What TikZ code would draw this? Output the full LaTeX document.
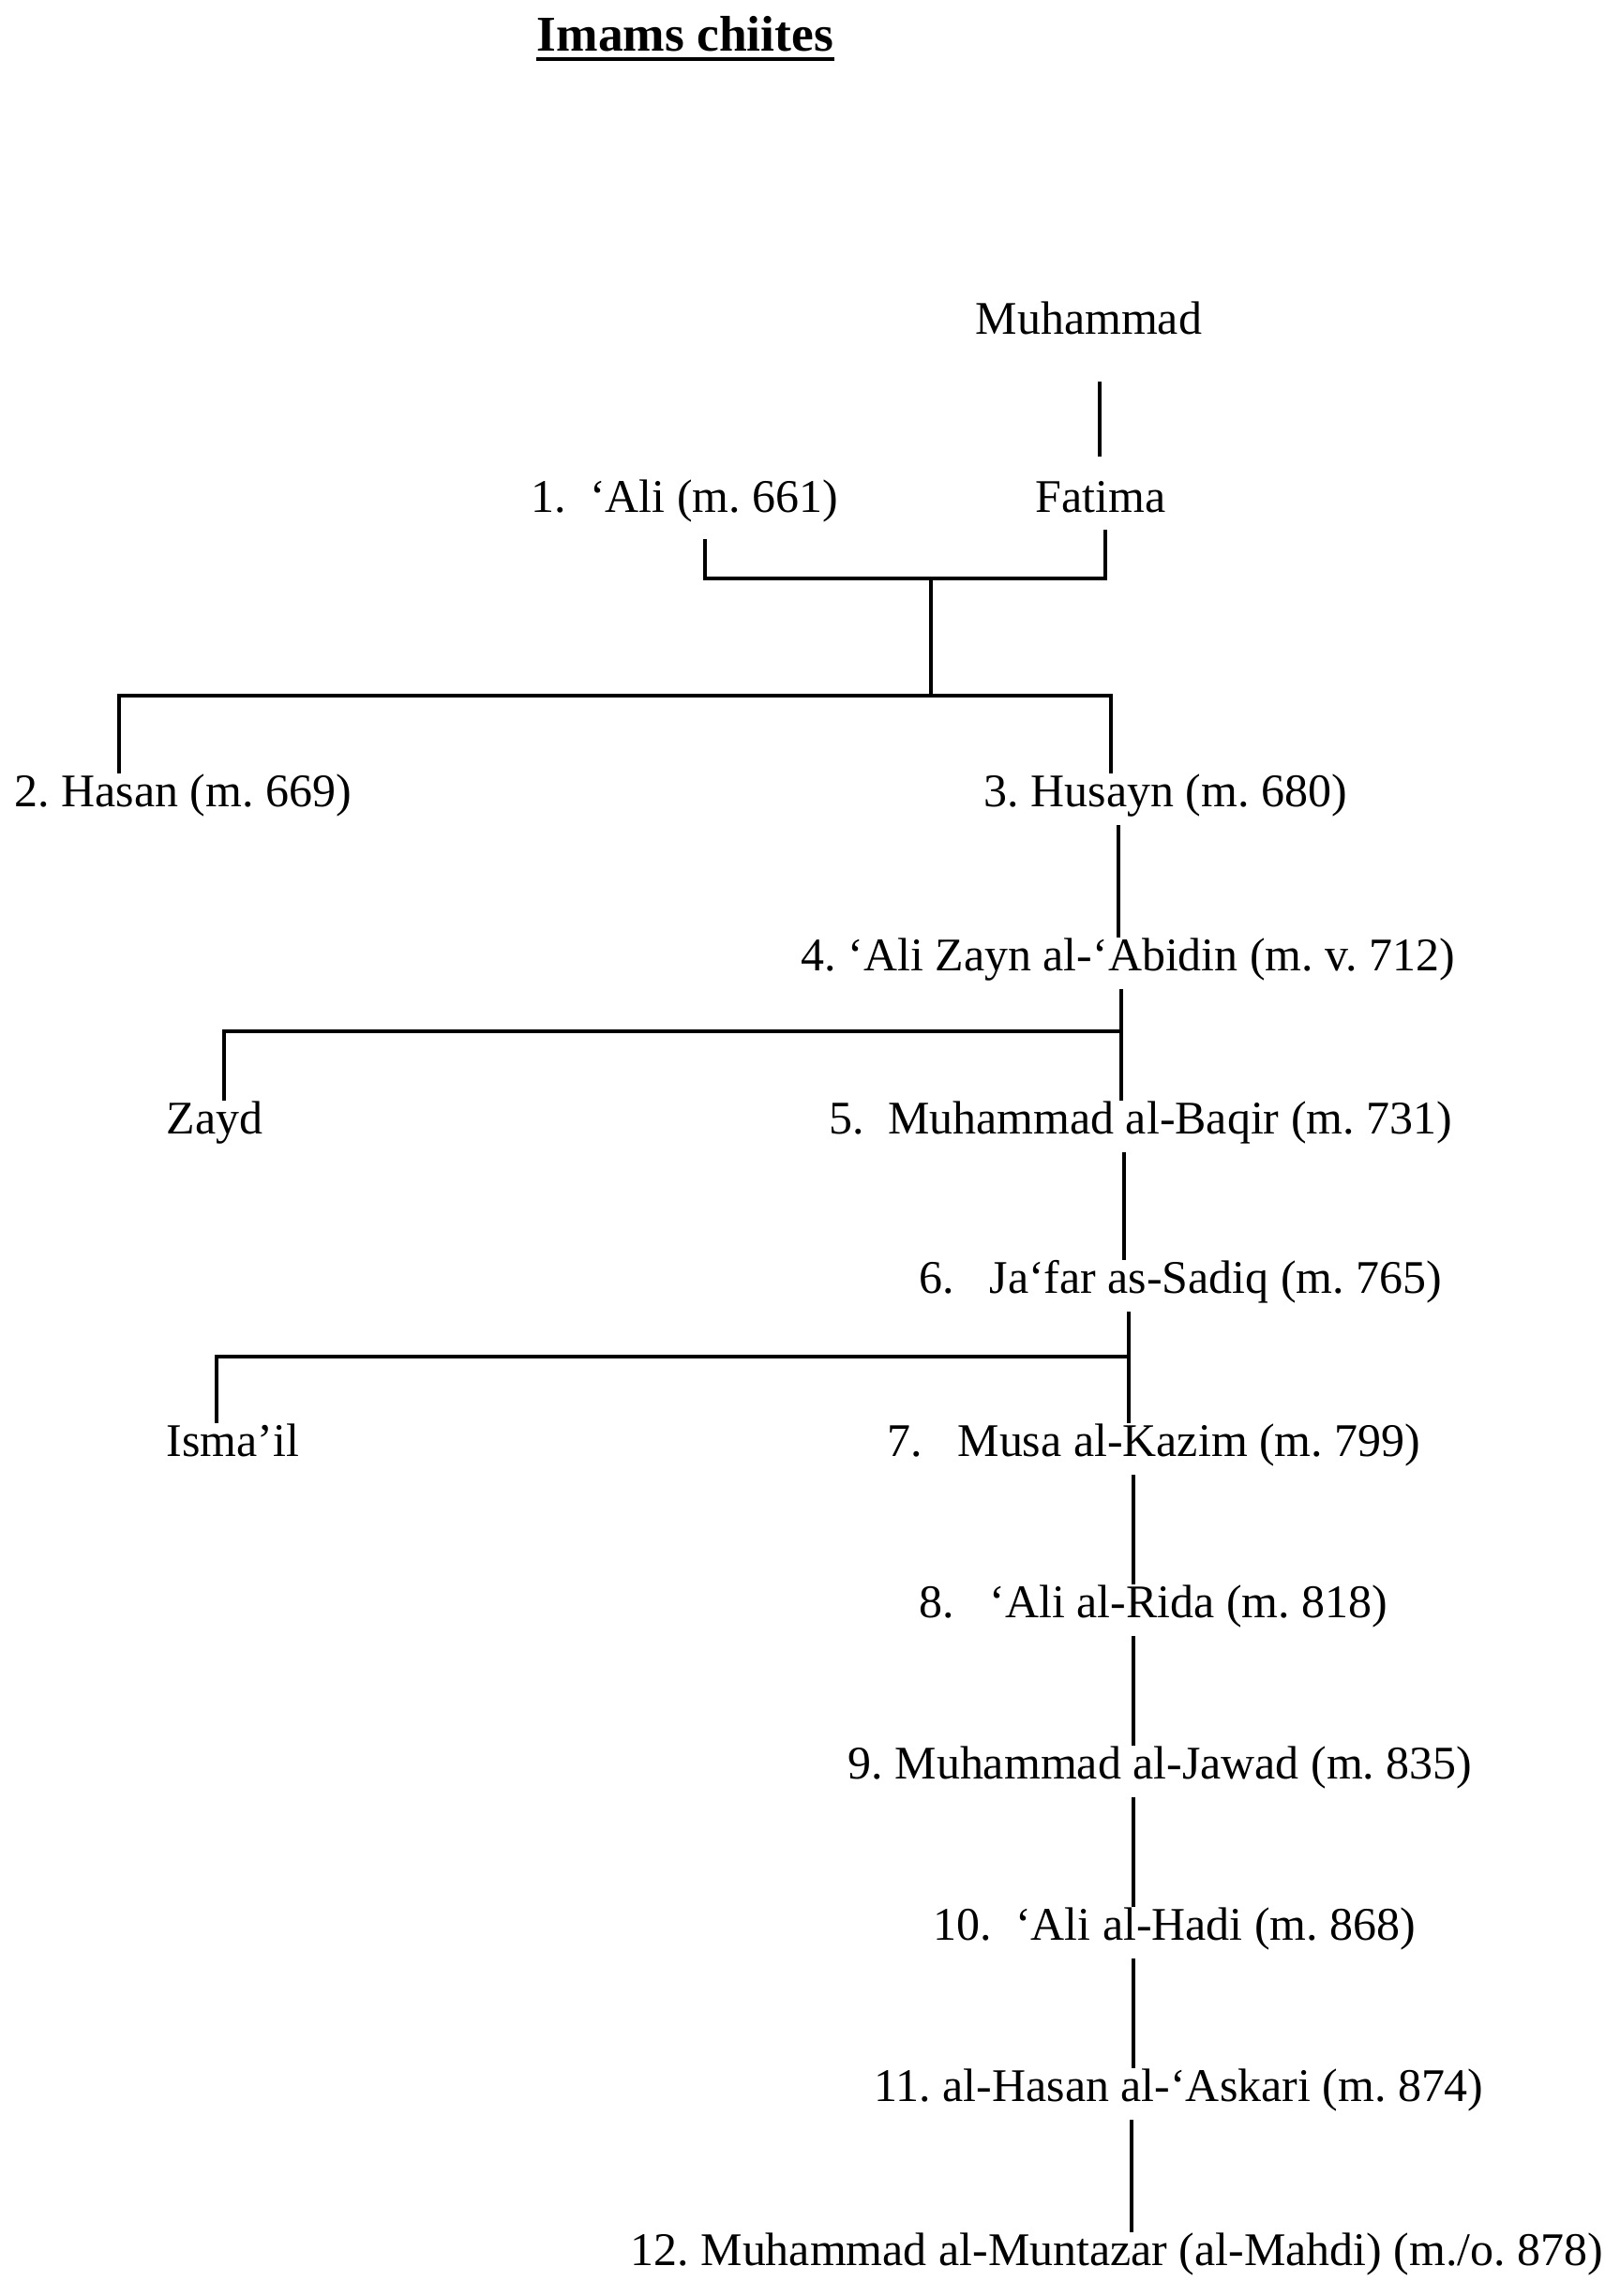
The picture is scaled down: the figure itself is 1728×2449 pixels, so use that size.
\documentclass[tikz,border=0pt]{standalone}
\usepackage{fontspec}
\setmainfont{Liberation Serif}
\usetikzlibrary{positioning}

\tikzset{
  imam/.style={anchor=base west, inner sep=0pt, text height=0.7em, text depth=0.22em},
  bar/.style={line width=0.035cm},
  stem/.style={bar, shorten <=0.12cm, shorten >=0.1cm},
}

\begin{document}
\frenchspacing
\begin{tikzpicture}[x=0.01cm, y=-0.01cm, font=\fontsize{14.2}{17}\selectfont]
    \useasboundingbox (0,0) rectangle (1728,2449);

    \node[imam, font=\fontsize{15.2}{18}\selectfont\bfseries] (title) at (572,55) {Imams chiites};
    \draw[line width=0.04cm] ([yshift=-0.08cm]title.base west) -- ([yshift=-0.08cm]title.base east);

    \node[imam] (muhammad) at (1040,357)  {Muhammad};
    \node[imam] (ali)      at (566,547)   {1.~~‘Ali (m. 661)};
    \node[imam] (fatima)   at (1104,547)  {Fatima};
    \node[imam] (hasan)    at (15,860)    {2. Hasan (m. 669)};
    \node[imam] (husayn)   at (1049,860)  {3. Husayn (m. 680)};
    \node[imam] (zayn)     at (854,1035)  {4. ‘Ali Zayn al-‘Abidin (m. v. 712)};
    \node[imam] (zayd)     at (177,1209)  {Zayd};
    \node[imam] (baqir)    at (884,1209)  {5.~~Muhammad al-Baqir (m. 731)};
    \node[imam] (sadiq)    at (980,1379)  {6.~~~Ja‘far as-Sadiq (m. 765)};
    \node[imam] (ismail)   at (177,1553)  {Isma’il};
    \node[imam] (kazim)    at (946,1553)  {7.~~~Musa al-Kazim (m. 799)};
    \node[imam] (rida)     at (980,1725)  {8.~~~‘Ali al-Rida (m. 818)};
    \node[imam] (jawad)    at (904,1897)  {9. Muhammad al-Jawad (m. 835)};
    \node[imam] (hadi)     at (995,2069)  {10.~~‘Ali al-Hadi (m. 868)};
    \node[imam] (askari)   at (932,2241)  {11. al-Hasan al-‘Askari (m. 874)};
    \node[imam] (muntazar) at (672,2416)  {12. Muhammad al-Muntazar (al-Mahdi) (m./o. 878)};

    % junctions
    \coordinate (mf) at (1173,0);
    \coordinate (wl) at (752,617);
    \coordinate (wr) at (1179,617);
    \coordinate (wed) at (993,617);
    \coordinate (split) at (993,742);
    \coordinate (hl) at (127,742);
    \coordinate (hr) at (1185,742);
    \coordinate (zj) at (1196,1100);
    \coordinate (zk) at (239,1100);
    \coordinate (ij) at (1204,1447);
    \coordinate (ik) at (231,1447);

    \draw[bar, shorten <=0.42cm, shorten >=0.35cm] (muhammad.south -| mf) -- (fatima.north -| mf);
    \draw[bar, shorten <=0.2cm, shorten >=0.1cm] (ali.south -| wl) -- (wl) -- (wr) -- (fatima.south -| wr);
    \draw[bar] (wed) -- (split);
    \draw[bar, shorten <=0.1cm, shorten >=0.1cm] (hasan.north -| hl) -- (hl) -- (hr) -- (husayn.north -| hr);

    \draw[stem] (zayn.south -| zj) -- (baqir.north -| zj);
    \draw[bar, shorten >=0.1cm] (zj) -- (zk) -- (zayd.north -| zk);
    \draw[stem] (sadiq.south -| ij) -- (kazim.north -| ij);
    \draw[bar, shorten >=0.1cm] (ij) -- (ik) -- (ismail.north -| ik);

    \foreach \a/\b/\x in {husayn/zayn/1193, baqir/sadiq/1199, kazim/rida/1209, rida/jawad/1209,
                          jawad/hadi/1209, hadi/askari/1209, askari/muntazar/1207} {
      \coordinate (t) at (\x,0);
      \draw[stem] (\a.south -| t) -- (\b.north -| t);
    }
\end{tikzpicture}
\end{document}
